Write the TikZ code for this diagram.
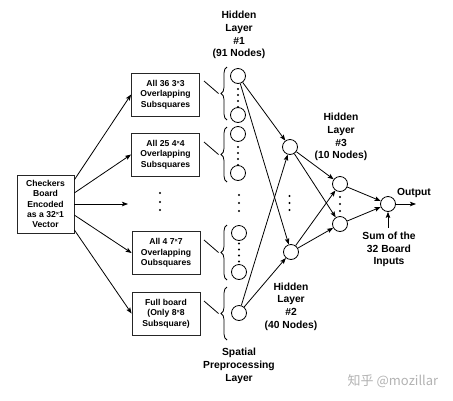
\documentclass[tikz,border=0pt]{standalone}
\usepackage{fontspec}
\setmainfont{Liberation Sans}
\newfontfamily\cjkfont{Noto Sans CJK SC}
\usetikzlibrary{arrows.meta,decorations.pathreplacing,calc}
\newcommand{\xmul}{\raisebox{0.45ex}{\fontsize{5.5}{5.5}\selectfont ×}}
\begin{document}
\begin{tikzpicture}[x=1pt,y=-1pt,
  box/.style={draw=black!85, line width=0.8pt, minimum width=68pt, minimum height=43pt, inner sep=0pt, align=center, font=\fontsize{8.6}{10.3}\selectfont\bfseries},
  neuron/.style={draw, circle, line width=0.8pt, minimum size=15pt, inner sep=0pt},
  lbl/.style={align=center, font=\fontsize{10.3}{12.7}\selectfont\bfseries, inner sep=0pt},
  arr/.style={line width=0.8pt, -{Stealth[length=6pt,width=4.5pt,inset=1.2pt]}},
  ln/.style={line width=0.8pt},
  brc/.style={line width=0.8pt, decorate, decoration={brace, amplitude=6pt}},
  dot/.style={circle, fill, inner sep=0pt, minimum size=2.2pt}
]
\useasboundingbox (0,0) rectangle (453,400);

% input and preprocessing boxes
\node[box, minimum width=57pt, minimum height=58pt] (in) at (45.5,204) {Checkers\\Board\\Encoded\\as a 32\xmul1\\Vector};
\node[box] (b1) at (165.5,94.5) {All 36 3\xmul3\\Overlapping\\Subsquares};
\node[box] (b2) at (165.5,154.5) {All 25 4\xmul4\\Overlapping\\Subsquares};
\node[box] (b3) at (166,253) {All 4 7\xmul7\\Overlapping\\Oubsquares};
\node[box] (b4) at (166,313.5) {Full board\\(Only 8\xmul8\\Subsquare)};
\coordinate (mid) at (128,204);

\draw[arr] (in.40) -- (b1.west);
\draw[arr] (in.21) -- (b2.west);
\draw[arr] (in.east) -- (mid);
\draw[arr] (in.-21) -- (b3.west);
\draw[arr] (in.-42) -- (b4.west);

\foreach \y in {193,202,210} \node[dot] at (160,\y) {};

% braces
\foreach \ya/\yb/\nm in {67/120/t1, 127/182/t2, 225/280/t3, 287/340/t4}{
  \draw[brc] (227,\yb) -- (227,\ya);
  \coordinate (\nm) at (218.5,{(\ya+\yb)/2});
  \draw[ln] ($(\nm)+(-14.5,-12.5)$) -- (\nm);
}

% hidden layer 1
\node[neuron] (h1a) at (238,76) {};
\node[neuron] (h1b) at (238,115) {};
\node[neuron] (h1c) at (238,134) {};
\node[neuron] (h1d) at (238,173) {};
\node[neuron] (h1e) at (239,233) {};
\node[neuron] (h1f) at (239,272) {};
\node[neuron] (h1g) at (239,313) {};
\foreach \y in {89,95,101,107} \node[dot] at (238,\y) {};
\foreach \y in {147,153,159,165} \node[dot] at (238,\y) {};
\foreach \y in {243.5,249.5,255.5,261.5} \node[dot] at (239,\y) {};
\foreach \y in {195,203,211} \node[dot] at (239,\y) {};

% hidden layer 2
\node[neuron] (h2a) at (290,147) {};
\node[neuron] (h2b) at (291,252) {};
\foreach \y in {196,203,210} \node[dot] at (289.5,\y) {};

% hidden layer 3
\node[neuron] (h3a) at (340,184) {};
\node[neuron] (h3b) at (340,224) {};
\foreach \y in {197,204,211} \node[dot] at (340,\y) {};

% output
\node[neuron] (out) at (388,204) {};
\coordinate (outend) at (416,204);
\coordinate (sumstart) at (388,228);

\draw[arr] (h1a) -- (h2a);
\draw[arr] (h1g) -- (h2a);
\draw[arr] (h1a) -- (h2b);
\draw[arr] (h1g) -- (h2b);
\draw[arr] (h2a) -- (h3a);
\draw[arr] (h2a) -- (h3b);
\draw[arr] (h2b) -- (h3a);
\draw[arr] (h2b) -- (h3b);
\draw[arr] (h3a) -- (out);
\draw[arr] (h3b) -- (out);
\draw[arr] (out) -- (outend);
\draw[arr] (sumstart) -- (out);

% labels
\node[lbl] (l1) at (239,35) {Hidden\\Layer\\\#1\\(91 Nodes)};
\node[lbl] (l3) at (341,137) {Hidden\\Layer\\\#3\\(10 Nodes)};
\node[lbl] (l2) at (291,306.5) {Hidden\\Layer\\\#2\\(40 Nodes)};
\node[lbl] (lsp) at (239,366) {Spatial\\Preprocessing\\Layer};
\node[lbl] (lout) at (414,193) {Output};
\node[lbl] (lsum) at (389,249.5) {Sum of the\\32 Board\\Inputs};
\node[text=black!30, font=\cjkfont\fontsize{13}{13}\selectfont, inner sep=0pt] (wm) at (393,381) {知乎 @mozillar};
\end{tikzpicture}
\end{document}
